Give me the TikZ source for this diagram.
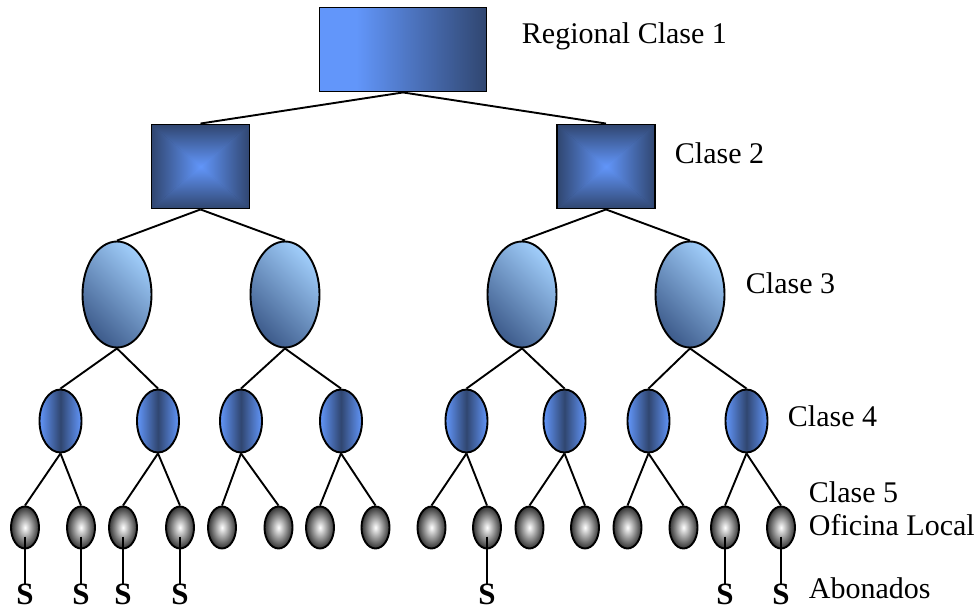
\documentclass[tikz,border=0pt]{standalone}
\usepackage{fontspec}
\setmainfont{Liberation Serif}
\usetikzlibrary{shapes.geometric}
\definecolor{blt}{RGB}{98,150,250}
\definecolor{bdk}{RGB}{48,70,112}
\definecolor{cthreelt}{RGB}{160,205,250}
\definecolor{cthreedk}{RGB}{62,92,140}
\definecolor{leafdk}{RGB}{50,50,50}
\pgfdeclarehorizontalshading{topgrad}{100bp}{color(0bp)=(blt); color(25bp)=(blt); color(36bp)=(blt); color(75bp)=(bdk); color(100bp)=(bdk)}
\tikzset{
  topbox/.style={draw, shade, shading=topgrad, inner sep=0pt, minimum width=167pt, minimum height=84pt},
  midbox/.style={draw, inner sep=0pt, minimum width=98pt, minimum height=84pt,
    path picture={
      \shade[inner color=blt, outer color=bdk] (path picture bounding box.north west) rectangle (path picture bounding box.south east);
      \begin{scope}
        \clip (path picture bounding box.north west) -- (path picture bounding box.north east) -- (path picture bounding box.center) -- cycle;
        \shade[top color=bdk, bottom color=blt] (path picture bounding box.north west) rectangle (path picture bounding box.east);
      \end{scope}
      \begin{scope}
        \clip (path picture bounding box.south west) -- (path picture bounding box.south east) -- (path picture bounding box.center) -- cycle;
        \shade[top color=blt, bottom color=bdk] (path picture bounding box.west) rectangle (path picture bounding box.south east);
      \end{scope}
      \begin{scope}
        \clip (path picture bounding box.north west) -- (path picture bounding box.south west) -- (path picture bounding box.center) -- cycle;
        \shade[left color=bdk, right color=blt] (path picture bounding box.north west) rectangle (path picture bounding box.south);
      \end{scope}
      \begin{scope}
        \clip (path picture bounding box.north east) -- (path picture bounding box.south east) -- (path picture bounding box.center) -- cycle;
        \shade[left color=blt, right color=bdk] (path picture bounding box.north) rectangle (path picture bounding box.south east);
      \end{scope}
    }},
  cthree/.style={ellipse, draw, inner sep=0pt, minimum width=69pt, minimum height=106pt, top color=cthreelt, bottom color=cthreedk, shading angle=-45},
  cfour/.style={ellipse, draw, inner sep=0pt, minimum width=42pt, minimum height=63pt, left color=blt, right color=blt, middle color=bdk},
  leaf/.style={ellipse, draw, inner sep=0pt, minimum width=28pt, minimum height=42pt, inner color=white, outer color=leafdk},
  lbl/.style={anchor=base west, inner sep=0pt, font=\fontsize{30}{36}\selectfont},
  sub/.style={anchor=base, inner sep=0pt, font=\fontsize{31}{36}\selectfont\bfseries}
}
\begin{document}
\begin{tikzpicture}[x=1pt, y=-1pt, line width=1.9pt]
\useasboundingbox (0,0) rectangle (980,609);
% nodes
\node[topbox] (r1) at (403,49.5) {};
\node[midbox] (b1) at (200.5,166.5) {};
\node[midbox] (b2) at (606,166.5) {};
\foreach \n/\x in {1/117, 2/285, 3/522, 4/690}
  \node[cthree] (c\n) at (\x,294.5) {};
\foreach \n/\x in {1/60.5, 2/158, 3/241, 4/341, 5/466.5, 6/564.5, 7/648.5, 8/746.5}
  \node[cfour] (d\n) at (\x,421) {};
\foreach \n/\x in {1/25, 2/81, 3/123, 4/180, 5/222, 6/278.5, 7/320, 8/375.5, 9/431.5, 10/487, 11/529.5, 12/585, 13/627.5, 14/683.5, 15/725, 16/781}
  \node[leaf] (e\n) at (\x,527.5) {};
% connectors
\draw (r1.south) -- (b1.north);
\draw (r1.south) -- (b2.north);
\draw (b1.south) -- (c1.north);
\draw (b1.south) -- (c2.north);
\draw (b2.south) -- (c3.north);
\draw (b2.south) -- (c4.north);
\foreach \i [evaluate=\i as \a using int(2*\i-1), evaluate=\i as \b using int(2*\i)] in {1,...,4} {
  \draw (c\i.south) -- (d\a.north);
  \draw (c\i.south) -- (d\b.north);
}
\foreach \i [evaluate=\i as \a using int(2*\i-1), evaluate=\i as \b using int(2*\i)] in {1,...,8} {
  \draw (d\i.south) -- (e\a.north);
  \draw (d\i.south) -- (e\b.north);
}
% subscribers
\foreach \n in {1,2,3,4,10,15,16} {
  \node[sub] (s\n) at (e\n.center |- 0,604) {S};
  \draw ([yshift=-9pt]e\n.center) -- ([yshift=-2pt]s\n.north);
}
% labels
\node[lbl] (l1) at (521,44) {Regional Clase 1};
\node[lbl] (l2) at (674,164) {Clase 2};
\node[lbl] (l3) at (745,294) {Clase 3};
\node[lbl] (l4) at (787,427) {Clase 4};
\node[lbl] (l5) at (808,502) {Clase 5};
\node[lbl] (l6) at (808,535) {Oficina Local};
\node[lbl] (l7) at (808,598) {Abonados};
\end{tikzpicture}
\end{document}
